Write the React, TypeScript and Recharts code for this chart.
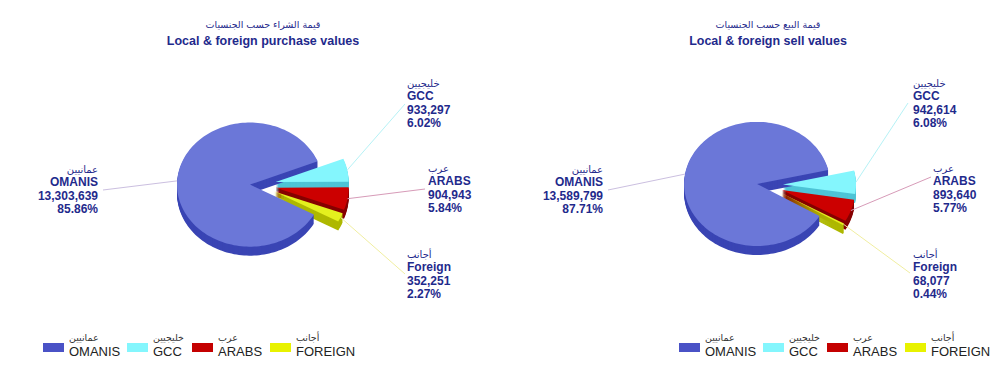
import React from 'react';
import { PieChart, Pie, Cell, Legend } from 'recharts';

// ---------- data ----------
const sliceIds = ['gcc', 'arabs', 'foreign', 'omanis'];
const sliceNamesEn = ['GCC', 'ARABS', 'Foreign', 'OMANIS'];
const sliceNamesAr = ['خليجيين', 'عرب', 'أجانب', 'عمانيين'];
const purchaseValues = [933297, 904943, 352251, 13303639];
const sellValues = [942614, 893640, 68077, 13589799];

const legendIds = ['omanis', 'gcc', 'arabs', 'foreign'];
const legendEn = ['OMANIS', 'GCC', 'ARABS', 'FOREIGN'];
const legendAr = ['عمانيين', 'خليجيين', 'عرب', 'أجانب'];

const purchaseTitleAr = 'قيمة الشراء حسب الجنسيات';
const purchaseTitleEn = 'Local & foreign purchase values';
const sellTitleAr = 'قيمة البيع حسب الجنسيات';
const sellTitleEn = 'Local & foreign sell values';

// ---------- styles ----------
const TOP: Record<string, string> = { omanis: '#6b77d8', gcc: '#84f6fd', arabs: '#cc0000', foreign: '#e4f01e' };
const SIDE: Record<string, string> = { omanis: '#3a45b4', gcc: '#4ec4d6', arabs: '#860000', foreign: '#aeb800' };
const LINE: Record<string, string> = { omanis: '#cbbfe0', gcc: '#b6f2f6', arabs: '#d79bb8', foreign: '#f0eea0' };
const SWATCH: Record<string, string> = { omanis: '#4a52c6', gcc: '#84f6fd', arabs: '#c40000', foreign: '#e8f200' };
const EXPLODE: Record<string, number> = { omanis: 8, gcc: 18, arabs: 18, foreign: 18 };
const TILT = 0.85;
const DEPTH = 9;
const NAVY = '#1f2a8c';
const FONT = '"Liberation Sans", Arial, "DejaVu Sans", sans-serif';
const AR_FONT = '"DejaVu Sans", "Noto Sans", sans-serif';

type Layout = Record<string, { tx: number; ty: number; lx: number; ly: number; anchor: 'start' | 'end' }>;

const purchaseLayout: Layout = {
  omanis: { tx: -160, ty: -16, lx: -155, ly: 5, anchor: 'end' },
  gcc: { tx: 149, ty: -102, lx: 147, ly: -81, anchor: 'start' },
  arabs: { tx: 170, ty: -17, lx: 167, ly: 4, anchor: 'start' },
  foreign: { tx: 149, ty: 69, lx: 147, ly: 89, anchor: 'start' },
};
const sellLayout: Layout = {
  omanis: { tx: -162, ty: -16, lx: -157, ly: 5, anchor: 'end' },
  gcc: { tx: 148, ty: -102, lx: 143, ly: -82, anchor: 'start' },
  arabs: { tx: 168, ty: -17, lx: 166, ly: -8, anchor: 'start' },
  foreign: { tx: 148, ty: 69, lx: 145, ly: 88, anchor: 'start' },
};

function buildData(values: number[]) {
  const total = values.reduce((a, b) => a + b, 0);
  return sliceIds.map((id, i) => ({
    id,
    name: sliceNamesEn[i],
    nameAr: sliceNamesAr[i],
    value: values[i],
    pct: ((values[i] / total) * 100).toFixed(2) + '%',
  }));
}

const purchaseData = buildData(purchaseValues);
const sellData = buildData(sellValues);

function getId(p: any): string {
  return (p && p.payload && p.payload.id) || p.id;
}

function explodeOffset(id: string, mid: number) {
  const e = EXPLODE[id] || 0;
  const r = (mid * Math.PI) / 180;
  return [e * Math.cos(r), -e * TILT * Math.sin(r)];
}

function ellipseSector(cx: number, cy: number, rx: number, ry: number, a0: number, a1: number) {
  const n = Math.max(2, Math.ceil(Math.abs(a1 - a0) / 2));
  let d = `M${cx.toFixed(2)},${cy.toFixed(2)}`;
  for (let i = 0; i <= n; i++) {
    const a = ((a0 + ((a1 - a0) * i) / n) * Math.PI) / 180;
    d += ` L${(cx + rx * Math.cos(a)).toFixed(2)},${(cy - ry * Math.sin(a)).toFixed(2)}`;
  }
  return d + ' Z';
}

const TopShape = (props: any) => {
  const { cx, cy, startAngle, endAngle, outerRadius } = props;
  const id = getId(props);
  const mid = props.midAngle ?? (startAngle + endAngle) / 2;
  const [ox, oy] = explodeOffset(id, mid);
  return <path d={ellipseSector(cx + ox, cy + oy, outerRadius, outerRadius * TILT, startAngle, endAngle)} fill={TOP[id]} />;
};

const SideShape = (props: any) => {
  const { cx, cy, startAngle, endAngle, outerRadius } = props;
  const id = getId(props);
  const mid = props.midAngle ?? (startAngle + endAngle) / 2;
  const [ox, oy] = explodeOffset(id, mid);
  const layers = [];
  for (let k = DEPTH; k >= 1; k--) {
    layers.push(
      <path
        key={k}
        d={ellipseSector(cx + ox, cy + oy + k, outerRadius, outerRadius * TILT, startAngle, endAngle)}
        fill={SIDE[id]}
      />
    );
  }
  return <g>{layers}</g>;
};

const makeLabel = (layout: Layout) => (props: any) => {
  const { cx, cy, midAngle, outerRadius } = props;
  const id = getId(props);
  const entry = props.payload && props.payload.id ? props.payload : props;
  const L = layout[id];
  if (!L) return null;
  const [ox, oy] = explodeOffset(id, midAngle);
  const r = (midAngle * Math.PI) / 180;
  const sx = cx + ox + outerRadius * Math.cos(r);
  const sy = cy + oy - outerRadius * TILT * Math.sin(r);
  const ex = cx + L.lx;
  const ey = cy + L.ly;
  const tx = cx + L.tx;
  const ty = cy + L.ty + 4;
  return (
    <g>
      <line x1={sx} y1={sy} x2={ex} y2={ey} stroke={LINE[id]} strokeWidth={1} />
      <text x={tx} y={ty} textAnchor={L.anchor} fill={NAVY} fontSize={10} fontFamily={AR_FONT}>
        {entry.nameAr}
      </text>
      <text x={tx} y={ty + 13.3} textAnchor={L.anchor} fill={NAVY} fontSize={12} fontWeight="bold" fontFamily={FONT}>
        {entry.name}
      </text>
      <text x={tx} y={ty + 26.8} textAnchor={L.anchor} fill={NAVY} fontSize={12} fontWeight="bold" fontFamily={FONT}>
        {Number(entry.value).toLocaleString('en-US')}
      </text>
      <text x={tx} y={ty + 40.3} textAnchor={L.anchor} fill={NAVY} fontSize={12} fontWeight="bold" fontFamily={FONT}>
        {entry.pct}
      </text>
    </g>
  );
};

const LegendBox = ({ xs }: { xs: number[] }) => (
  <div style={{ position: 'relative', width: 500, height: 40 }}>
    {legendIds.map((id, i) => (
      <div key={id} style={{ position: 'absolute', left: xs[i], top: 0 }}>
        <div style={{ position: 'absolute', left: 0, top: 14, width: 21, height: 9, background: SWATCH[id] }} />
        <div
          style={{
            position: 'absolute', left: 26, top: 3, fontSize: 9.5, lineHeight: '11px',
            fontFamily: AR_FONT, color: '#333', whiteSpace: 'nowrap',
          }}
        >
          {legendAr[i]}
        </div>
        <div
          style={{
            position: 'absolute', left: 26, top: 16, fontSize: 13, lineHeight: '14px',
            fontFamily: FONT, color: '#222', whiteSpace: 'nowrap',
          }}
        >
          {legendEn[i]}
        </div>
      </div>
    ))}
  </div>
);

const PieBlock = ({
  data, layout, startAngle, cx, titleAr, titleEn, titleX, legendXs,
}: {
  data: any[]; layout: Layout; startAngle: number; cx: number; titleAr: string; titleEn: string; titleX: number; legendXs: number[];
}) => (
  <div style={{ position: 'relative', width: 500, height: 377 }}>
    <div
      style={{
        position: 'absolute', left: titleX - 150, top: 18, width: 300, textAlign: 'center',
        color: NAVY, fontFamily: AR_FONT, fontSize: 9.5, lineHeight: '13px',
      }}
    >
      {titleAr}
    </div>
    <div
      style={{
        position: 'absolute', left: titleX - 150, top: 33, width: 300, textAlign: 'center',
        color: NAVY, fontFamily: FONT, fontSize: 12.5, fontWeight: 'bold', lineHeight: '16px',
      }}
    >
      {titleEn}
    </div>
    <div style={{ position: 'absolute', left: 0, top: 0 }}>
      <PieChart width={500} height={377} margin={{ top: 0, right: 0, bottom: 0, left: 0 }}>
        <Pie
          data={data}
          dataKey="value"
          nameKey="name"
          cx={cx}
          cy={185}
          innerRadius={0}
          outerRadius={73}
          startAngle={startAngle}
          endAngle={startAngle - 360}
          stroke="none"
          isAnimationActive={false}
          shape={SideShape}
          activeShape={SideShape}
          inactiveShape={SideShape}
          labelLine={false}
          label={false}
        >
          {data.map((d) => (
            <Cell key={d.id} fill={SIDE[d.id]} />
          ))}
        </Pie>
        <Pie
          data={data}
          dataKey="value"
          nameKey="name"
          cx={cx}
          cy={185}
          innerRadius={0}
          outerRadius={73}
          startAngle={startAngle}
          endAngle={startAngle - 360}
          stroke="none"
          isAnimationActive={false}
          shape={TopShape}
          activeShape={TopShape}
          inactiveShape={TopShape}
          labelLine={false}
          label={makeLabel(layout)}
        >
          {data.map((d) => (
            <Cell key={d.id} fill={TOP[d.id]} />
          ))}
        </Pie>
        <Legend
          verticalAlign="bottom"
          content={() => <LegendBox xs={legendXs} />}
          wrapperStyle={{ left: 0, top: 329, bottom: 'auto', width: 500, height: 40 }}
        />
      </PieChart>
    </div>
  </div>
);

export default function App() {
  return (
    <div style={{ position: 'absolute', left: 0, top: 0, width: 1000, height: 377, background: '#ffffff', overflow: 'hidden' }}>
      <div style={{ position: 'absolute', left: 0, top: 0 }}>
        <PieBlock
          data={purchaseData}
          layout={purchaseLayout}
          startAngle={22}
          cx={258}
          titleAr={purchaseTitleAr}
          titleEn={purchaseTitleEn}
          titleX={263}
          legendXs={[43, 127, 192, 270]}
        />
      </div>
      <div style={{ position: 'absolute', left: 500, top: 0 }}>
        <PieBlock
          data={sellData}
          layout={sellLayout}
          startAngle={13}
          cx={265}
          titleAr={sellTitleAr}
          titleEn={sellTitleEn}
          titleX={268}
          legendXs={[179, 263, 327, 405]}
        />
      </div>
    </div>
  );
}
